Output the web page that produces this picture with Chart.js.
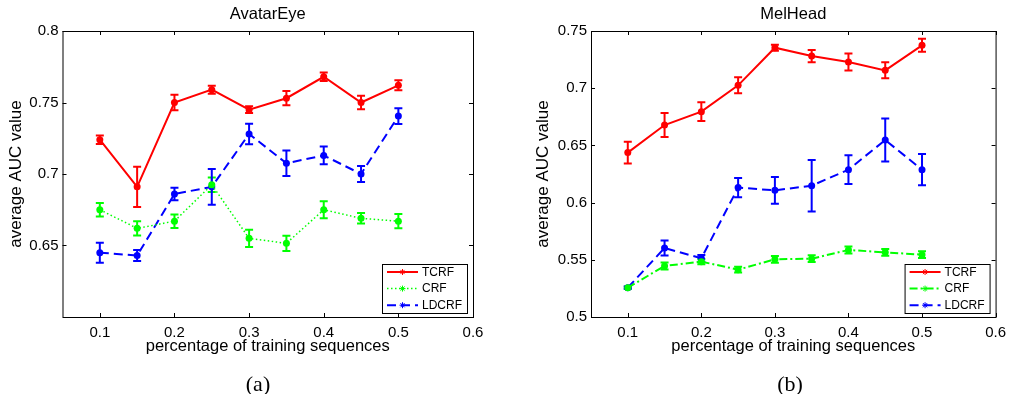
<!DOCTYPE html>
<html>
<head>
<meta charset="utf-8">
<script src="https://cdn.jsdelivr.net/npm/chart.js@4.4.1/dist/chart.umd.min.js"></script>
<style>
  body { margin: 0; background: #fff; width: 1013px; height: 394px; position: relative; overflow: hidden; }
  .panel { position: absolute; top: 0; }
  .cap { position: absolute; top: 371px; line-height: 24px; font: 22px "Liberation Serif", "Times New Roman", serif; transform: translateX(-50%); color: #000; }
</style>
</head>
<body>
<div class="panel" style="left:0"><canvas id="avatar-eye" width="506" height="394"></canvas></div>
<div class="panel" style="left:506px"><canvas id="mel-head" width="507" height="394"></canvas></div>
<div class="cap" style="left:258px">(a)</div>
<div class="cap" style="left:790px">(b)</div>
<script>
// shared x values and ticks
const xValues = [0.1, 0.15, 0.2, 0.25, 0.3, 0.35, 0.4, 0.45, 0.5];
const xTicks = [0.1, 0.2, 0.3, 0.4, 0.5, 0.6];

// AvatarEye
const eyeYTicks = [0.65, 0.7, 0.75, 0.8];
const eyeTcrf = [0.724, 0.691, 0.750, 0.759, 0.745, 0.753, 0.768, 0.750, 0.762];
const eyeTcrfErr = [0.003, 0.014, 0.0055, 0.0028, 0.0023, 0.005, 0.003, 0.0047, 0.0035];
const eyeCrf = [0.675, 0.662, 0.667, 0.6925, 0.655, 0.6515, 0.675, 0.669, 0.667];
const eyeCrfErr = [0.0047, 0.005, 0.0047, 0.005, 0.006, 0.0054, 0.006, 0.0037, 0.005];
const eyeLdcrf = [0.645, 0.643, 0.686, 0.691, 0.728, 0.7075, 0.713, 0.700, 0.7405];
const eyeLdcrfErr = [0.007, 0.0038, 0.0043, 0.0125, 0.0072, 0.0089, 0.0062, 0.0056, 0.0055];

// MelHead
const headYTicks = [0.5, 0.55, 0.6, 0.65, 0.7, 0.75];
const headTcrf = [0.6437, 0.6678, 0.6795, 0.7025, 0.7354, 0.7281, 0.7229, 0.7156, 0.7375];
const headTcrfErr = [0.0095, 0.0105, 0.0082, 0.007, 0.0026, 0.0054, 0.0074, 0.007, 0.0057];
const headCrf = [0.5256, 0.5446, 0.5484, 0.5414, 0.5504, 0.551, 0.5586, 0.5565, 0.5545];
const headCrfErr = [0.001, 0.003, 0.0023, 0.0026, 0.003, 0.003, 0.003, 0.003, 0.003];
const headLdcrf = [0.5256, 0.5603, 0.5513, 0.6131, 0.6107, 0.6148, 0.6288, 0.6547, 0.6288];
const headLdcrfErr = [0.001, 0.0065, 0.003, 0.0085, 0.0117, 0.0225, 0.0126, 0.0188, 0.0137];

Chart.defaults.font.family = '"Liberation Sans", Arial, sans-serif';
Chart.defaults.color = '#000';

const fmt = (v) => String(+Number(v).toFixed(2));
const pts = (vals) => vals.map((y, i) => ({ x: xValues[i], y }));

// matlab style box with inward ticks
const frame = {
  id: 'frame',
  beforeDatasetsDraw(chart) {
    const { ctx, chartArea: a, scales: { x, y } } = chart;
    ctx.save();
    ctx.strokeStyle = '#000';
    ctx.lineWidth = 1;
    ctx.strokeRect(a.left + 0.5, a.top + 0.5, a.right - a.left, a.bottom - a.top);
    ctx.beginPath();
    x.ticks.forEach(t => {
      const px = Math.round(x.getPixelForValue(t.value)) + 0.5;
      ctx.moveTo(px, a.bottom); ctx.lineTo(px, a.bottom - 4);
      ctx.moveTo(px, a.top); ctx.lineTo(px, a.top + 4);
    });
    y.ticks.forEach(t => {
      const py = Math.round(y.getPixelForValue(t.value)) + 0.5;
      ctx.moveTo(a.left, py); ctx.lineTo(a.left + 4, py);
      ctx.moveTo(a.right, py); ctx.lineTo(a.right - 4, py);
    });
    ctx.stroke();
    ctx.restore();
  },
};

const errorBars = {
  id: 'errorBars',
  beforeDatasetsDraw(chart) {
    const { ctx, scales: { x, y } } = chart;
    chart.data.datasets.forEach(ds => {
      ctx.save();
      ctx.strokeStyle = ds.borderColor;
      ctx.lineWidth = 2;
      ds.data.forEach((p, i) => {
        const e = ds.errors[i];
        const px = x.getPixelForValue(p.x);
        const top = y.getPixelForValue(p.y + e);
        const bot = y.getPixelForValue(p.y - e);
        ctx.beginPath();
        ctx.moveTo(px, top); ctx.lineTo(px, bot);
        ctx.moveTo(px - 4, top); ctx.lineTo(px + 4, top);
        ctx.moveTo(px - 4, bot); ctx.lineTo(px + 4, bot);
        ctx.stroke();
      });
      ctx.restore();
    });
  },
};

// legend box in the lower right corner of the axes
const insetLegend = {
  id: 'insetLegend',
  afterDraw(chart) {
    const { ctx, chartArea: a } = chart;
    const w = 85, h = 49;
    const left = a.right - 6 - w, top = a.bottom - 4 - h;
    ctx.save();
    ctx.fillStyle = '#fff';
    ctx.fillRect(left, top, w, h);
    ctx.strokeStyle = '#000';
    ctx.lineWidth = 1;
    ctx.strokeRect(left + 0.5, top + 0.5, w, h);
    ctx.font = '12px "Liberation Sans", Arial, sans-serif';
    ctx.textBaseline = 'middle';
    chart.data.datasets.forEach((ds, i) => {
      const cy = top + 8 + i * 16.6;
      ctx.strokeStyle = ds.borderColor;
      ctx.lineWidth = ds.borderWidth;
      ctx.setLineDash(ds.borderDash || []);
      ctx.beginPath();
      ctx.moveTo(left + 5, cy); ctx.lineTo(left + 36, cy);
      ctx.stroke();
      ctx.setLineDash([]);
      ctx.lineWidth = 1;
      const cx = left + 20.5, r = 3;
      ctx.beginPath();
      ctx.moveTo(cx - r, cy); ctx.lineTo(cx + r, cy);
      ctx.moveTo(cx, cy - r); ctx.lineTo(cx, cy + r);
      ctx.moveTo(cx - r * 0.7, cy - r * 0.7); ctx.lineTo(cx + r * 0.7, cy + r * 0.7);
      ctx.moveTo(cx - r * 0.7, cy + r * 0.7); ctx.lineTo(cx + r * 0.7, cy - r * 0.7);
      ctx.stroke();
      ctx.fillStyle = '#000';
      ctx.fillText(ds.label, left + 40, cy + 0.5);
    });
    ctx.restore();
  },
};

function series(label, vals, errs, color, dash, width) {
  return {
    label,
    data: pts(vals),
    errors: errs,
    borderColor: color,
    backgroundColor: color,
    borderWidth: width,
    borderDash: dash,
    tension: 0,
    pointRadius: 3.5,
    pointBorderWidth: 0,
    pointBackgroundColor: color,
  };
}

function makeChart(id, cfg) {
  const ctx = document.getElementById(id);
  return new Chart(ctx, {
    type: 'line',
    data: { datasets: cfg.datasets },
    options: {
      responsive: false,
      animation: false,
      layout: { padding: { left: 0, right: cfg.padRight, top: 0, bottom: 0 } },
      scales: {
        x: {
          type: 'linear',
          min: 0.05,
          max: 0.6,
          afterBuildTicks: (s) => { s.ticks = xTicks.map(v => ({ value: v })); },
          afterFit: (s) => { s.height = 77; },
          grid: { display: false, drawTicks: false },
          border: { display: false },
          ticks: { font: { size: 15 }, padding: 7, maxRotation: 0, callback: fmt },
          title: { display: true, text: 'percentage of training sequences', font: { size: 16.5 }, padding: { top: 0, bottom: 38 } },
        },
        y: {
          min: cfg.yMin,
          max: cfg.yMax,
          afterBuildTicks: (s) => { s.ticks = cfg.yTicks.map(v => ({ value: v })); },
          afterFit: (s) => { s.width = cfg.yWidth; },
          grid: { display: false, drawTicks: false },
          border: { display: false },
          ticks: { font: { size: 15 }, padding: 4, callback: fmt },
          title: { display: true, text: 'average AUC value', font: { size: 17 }, padding: { top: cfg.yTitlePad, bottom: 0 } },
        },
      },
      plugins: {
        legend: { display: false },
        tooltip: { enabled: false },
        title: {
          display: true,
          fullSize: false,
          text: cfg.title,
          font: { size: 16.5, weight: 'normal' },
          padding: { top: 4.5, bottom: 6.7 },
        },
      },
    },
    plugins: [frame, errorBars, insetLegend],
  });
}

makeChart('avatar-eye', {
  title: 'AvatarEye',
  yMin: 0.6, yMax: 0.8, yTicks: eyeYTicks, yWidth: 62.5, yTitlePad: 6.5, padRight: 33,
  datasets: [
    series('TCRF', eyeTcrf, eyeTcrfErr, '#ff0000', [], 2),
    series('CRF', eyeCrf, eyeCrfErr, '#00ff00', [1.5, 2.5], 1.5),
    series('LDCRF', eyeLdcrf, eyeLdcrfErr, '#0000ff', [9, 5], 2),
  ],
});

makeChart('mel-head', {
  title: 'MelHead',
  yMin: 0.5, yMax: 0.75, yTicks: headYTicks, yWidth: 85, yTitlePad: 27.5, padRight: 12.3,
  datasets: [
    series('TCRF', headTcrf, headTcrfErr, '#ff0000', [], 2),
    series('CRF', headCrf, headCrfErr, '#00ff00', [8, 3, 2, 3], 2),
    series('LDCRF', headLdcrf, headLdcrfErr, '#0000ff', [9, 5], 2),
  ],
});
</script>
</body>
</html>
